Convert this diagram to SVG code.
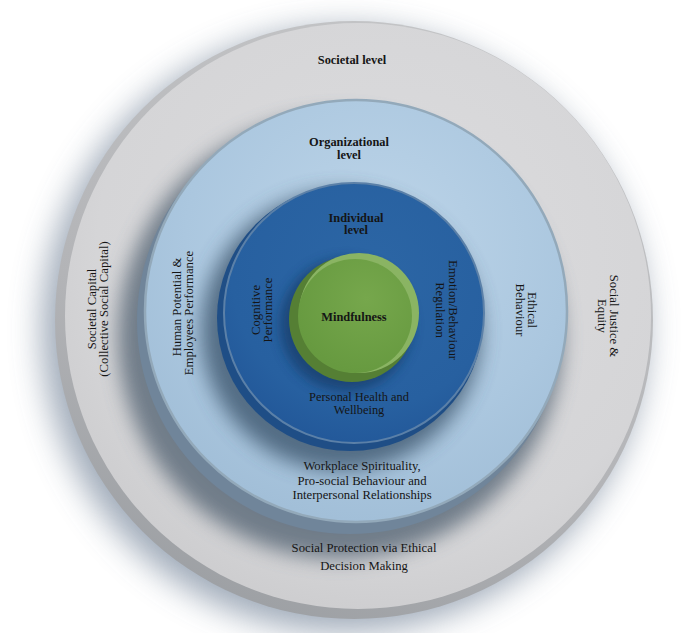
<svg xmlns="http://www.w3.org/2000/svg" width="685" height="633" viewBox="0 0 685 633">
<style>
.t{font-family:"Liberation Serif","Times New Roman",serif;font-size:12.7px;fill:#151515;text-anchor:middle}
.b{font-weight:bold;font-size:12.4px}
.s{font-size:12.4px}
</style>
<defs>
<filter id="blur16" x="-30%" y="-30%" width="160%" height="160%"><feGaussianBlur stdDeviation="16"/></filter>
<filter id="blur10" x="-30%" y="-30%" width="160%" height="160%"><feGaussianBlur stdDeviation="10"/></filter>
<filter id="blur6" x="-30%" y="-30%" width="160%" height="160%"><feGaussianBlur stdDeviation="6"/></filter>
<radialGradient id="grayFace" cx="0.55" cy="0.4" r="0.62">
<stop offset="0" stop-color="#dcdcde"/><stop offset="0.8" stop-color="#d5d5d7"/><stop offset="1" stop-color="#cdcdcf"/>
</radialGradient>
<linearGradient id="grayRim" x1="0.7" y1="0" x2="0.3" y2="1">
<stop offset="0" stop-color="#c4c5c7"/><stop offset="0.6" stop-color="#b3b4b7"/><stop offset="1" stop-color="#9c9fa3"/>
</linearGradient>
<radialGradient id="blueFace" cx="0.55" cy="0.35" r="0.65">
<stop offset="0" stop-color="#bdd5e9"/><stop offset="0.7" stop-color="#abc7df"/><stop offset="1" stop-color="#a2bfd8"/>
</radialGradient>
<radialGradient id="indFace" cx="0.55" cy="0.35" r="0.65">
<stop offset="0" stop-color="#2c66a5"/><stop offset="0.8" stop-color="#2760a0"/><stop offset="1" stop-color="#23599a"/>
</radialGradient>
<radialGradient id="greenFace" cx="0.6" cy="0.35" r="0.65">
<stop offset="0" stop-color="#76a74c"/><stop offset="1" stop-color="#679a40"/>
</radialGradient>
</defs>

<g id="societal">
<circle cx="344" cy="330" r="302" fill="#8896a8" opacity="0.8" filter="url(#blur16)"/>
<circle cx="354" cy="320" r="299" fill="url(#grayRim)"/>
<circle cx="358" cy="316" r="293" fill="url(#grayFace)"/>
<circle cx="340" cy="337" r="222" fill="#5f6d7b" opacity="0.85" filter="url(#blur10)"/>
<text class="t b" x="352" y="64">Societal level</text>
<text class="t" transform="translate(96.3,309) rotate(-90)"><tspan x="0" y="0">Societal Capital</tspan><tspan x="0" dy="12">(Collective Social Capital)</tspan></text>
<text class="t" transform="translate(609.7,316) rotate(90)"><tspan x="0" y="0">Social Justice &amp;</tspan><tspan x="0" dy="12">Equity</tspan></text>
<text class="t" x="364" y="552">Social Protection via Ethical<tspan x="364" dy="18">Decision Making</tspan></text>
</g>

<g id="organizational">
<circle cx="350" cy="321" r="213" fill="#70859a"/>
<circle cx="356" cy="311" r="211" fill="url(#blueFace)" stroke="#93a9ba" stroke-width="2.5"/>
<circle cx="341" cy="331" r="140" fill="#3c566e" opacity="0.8" filter="url(#blur10)"/>
<text class="t b" x="349" y="146">Organizational<tspan x="349" dy="12.5">level</tspan></text>
<text class="t" transform="translate(181.3,310) rotate(-90)"><tspan x="3" y="0">Human Potential &amp;</tspan><tspan x="-3" dy="12">Employees Performance</tspan></text>
<text class="t" transform="translate(527.7,310) rotate(90)"><tspan x="0" y="0">Ethical</tspan><tspan x="0" dy="12">Behaviour</tspan></text>
<text class="t" x="362" y="470">Workplace Spirituality,<tspan x="362" dy="15">Pro-social Behaviour and</tspan><tspan x="362" dy="13.5">Interpersonal Relationships</tspan></text>
</g>

<g id="individual">
<circle cx="350" cy="318" r="133" fill="#1f4e86"/>
<circle cx="354" cy="313" r="130" fill="url(#indFace)" stroke="#5b80a8" stroke-width="2"/>
<circle cx="346" cy="325" r="66" fill="#123a66" opacity="0.7" filter="url(#blur6)"/>
<text class="t b" x="356" y="221.7">Individual<tspan x="356" dy="12.5">level</tspan></text>
<text class="t" transform="translate(260.3,310) rotate(-90)"><tspan x="0" y="0">Cognitive</tspan><tspan x="0" dy="12">Performance</tspan></text>
<text class="t" transform="translate(448.7,310) rotate(90)"><tspan x="0" y="0">Emotion/Behaviour</tspan><tspan x="0" dy="13">Regulation</tspan></text>
<text class="t s" x="359" y="401">Personal Health and<tspan x="359" dy="12.5">Wellbeing</tspan></text>
</g>

<g id="mindfulness">
<circle cx="352" cy="319" r="63" fill="#557f34"/>
<circle cx="359" cy="313" r="60" fill="#8ab463"/>
<circle cx="355" cy="316" r="57" fill="url(#greenFace)"/>
<text class="t b" x="354" y="321">Mindfulness</text>
</g>

<g id="connectors"/>
</svg>
